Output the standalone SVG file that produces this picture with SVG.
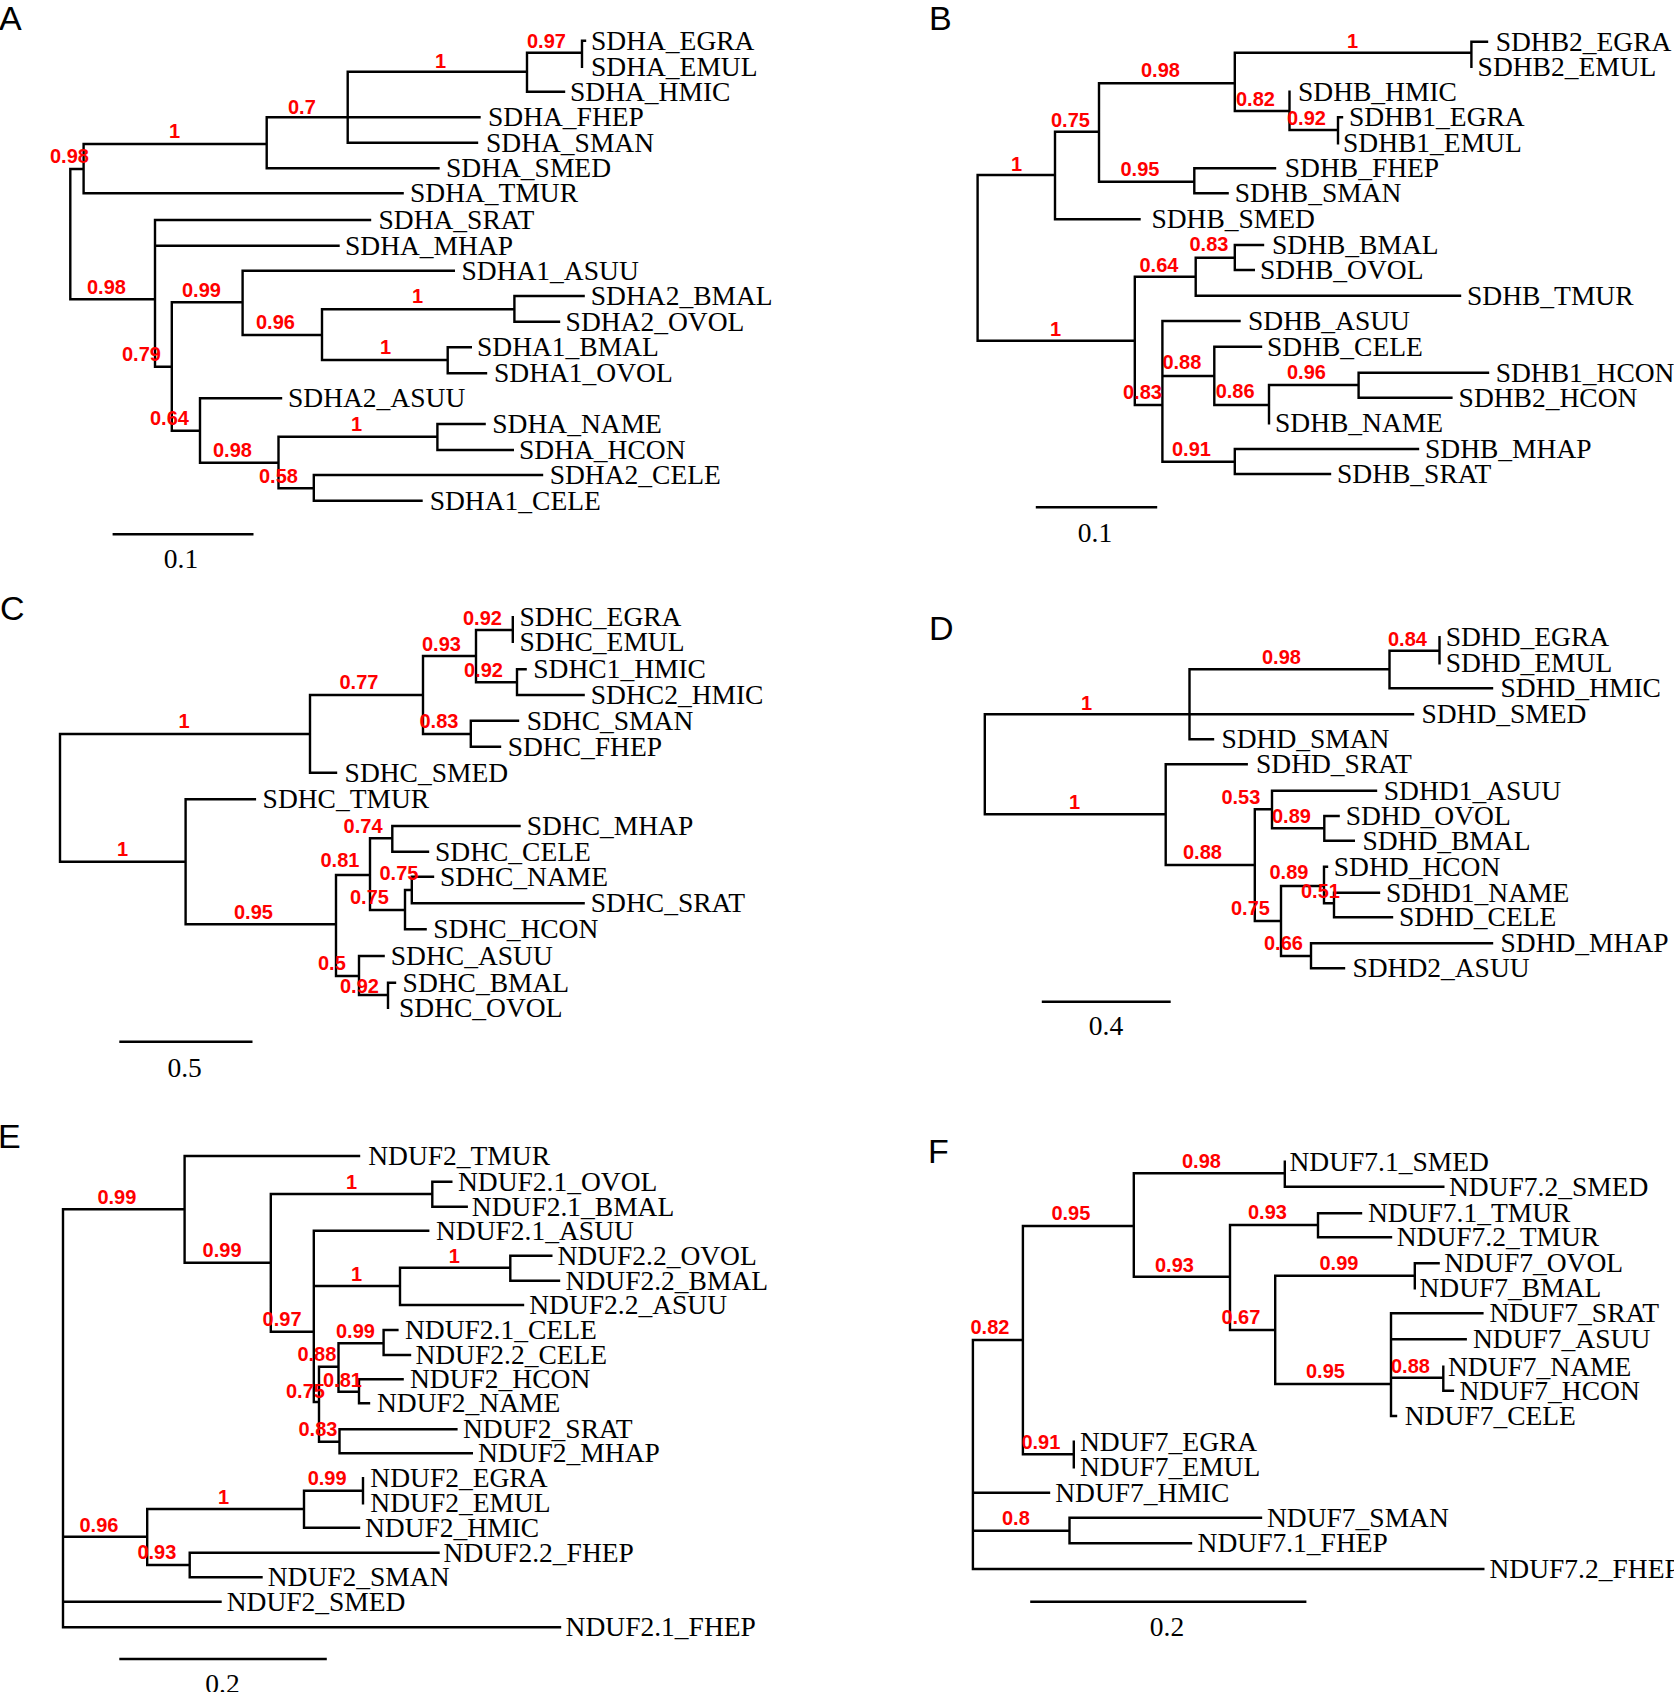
<svg xmlns="http://www.w3.org/2000/svg" width="1674" height="1692" viewBox="0 0 1674 1692">
<style>
.br{fill:none;stroke:#000;stroke-width:2.4;stroke-linecap:square}
.lf{font-family:"Liberation Serif","Times New Roman",serif;font-size:27.5px;fill:#000}
.bs{font-family:"Liberation Sans",Arial,sans-serif;font-weight:bold;font-size:20px;fill:#f00}
.pl{font-family:"Liberation Sans",Arial,sans-serif;font-size:34px;fill:#000}
.sc{font-family:"Liberation Serif","Times New Roman",serif;font-size:27.5px;text-anchor:middle}
</style>
<rect width="1674" height="1692" fill="#fff"/>

<!-- ================= PANEL A ================= -->
<g id="panelA">
<text class="pl" x="-1" y="30">A</text>
<g id="A-connectors">
<path class="br" d="M70.3 169V299.3M70.3 169H83.6M70.3 299.3H155
M83.6 144V193.3M83.6 144H266.7M83.6 193.3H402.6
M266.7 117.3V168.3M266.7 117.3H479.5M266.7 168.3H438.5
M347.7 71.7V142.7M347.7 71.7H527M347.7 142.7H477
M527 52.7V91.7M527 52.7H582M527 91.7H564
M582 40.7V66.7M582 40.7H585
M155 220V366.7M155 220H370M155 245.7H338.5M155 366.7H171.8
M171.8 302.3V430.7M171.8 302.3H242.6M171.8 430.7H200
M242.6 270.7V335M242.6 270.7H453.8M242.6 335H322
M322 309.3V360M322 309.3H514.4M322 360H447.7
M514.4 296V321.7M514.4 296H583.6M514.4 321.7H559
M447.7 347.3V373.3M447.7 347.3H470.8M447.7 373.3H486
M200 398.3V462.7M200 398.3H281M200 462.7H278.5
M278.5 436.7V488.3M278.5 436.7H437.4M278.5 488.3H313.8
M437.4 424V450M437.4 424H484.6M437.4 450H512.8
M313.8 475V500.7M313.8 475H542M313.8 500.7H421.5"/>
<path class="br" d="M113.8 534.3H252.3"/>
</g>
<g id="A-support">
<text class="bs" x="527" y="48.3">0.97</text>
<text class="bs" x="435" y="68">1</text>
<text class="bs" x="288" y="114">0.7</text>
<text class="bs" x="169" y="138">1</text>
<text class="bs" x="50" y="163">0.98</text>
<text class="bs" x="87" y="294">0.98</text>
<text class="bs" x="122" y="360.7">0.79</text>
<text class="bs" x="182" y="296.7">0.99</text>
<text class="bs" x="150" y="425">0.64</text>
<text class="bs" x="256" y="329.3">0.96</text>
<text class="bs" x="412" y="303.3">1</text>
<text class="bs" x="380" y="354">1</text>
<text class="bs" x="213" y="456.7">0.98</text>
<text class="bs" x="351" y="431">1</text>
<text class="bs" x="259" y="482.7">0.58</text>
</g>
<g id="A-SDHA_EGRA"><text class="lf" x="591" y="49.7">SDHA_EGRA</text></g>
<g id="A-SDHA_EMUL"><text class="lf" x="591" y="75.7">SDHA_EMUL</text></g>
<g id="A-SDHA_HMIC"><text class="lf" x="570" y="100.7">SDHA_HMIC</text></g>
<g id="A-SDHA_FHEP"><text class="lf" x="488" y="126.3">SDHA_FHEP</text></g>
<g id="A-SDHA_SMAN"><text class="lf" x="486" y="151.7">SDHA_SMAN</text></g>
<g id="A-SDHA_SMED"><text class="lf" x="446" y="177.3">SDHA_SMED</text></g>
<g id="A-SDHA_TMUR"><text class="lf" x="410" y="202.3">SDHA_TMUR</text></g>
<g id="A-SDHA_SRAT"><text class="lf" x="378.5" y="229">SDHA_SRAT</text></g>
<g id="A-SDHA_MHAP"><text class="lf" x="345" y="254.7">SDHA_MHAP</text></g>
<g id="A-SDHA1_ASUU"><text class="lf" x="461.5" y="279.7">SDHA1_ASUU</text></g>
<g id="A-SDHA2_BMAL"><text class="lf" x="590.8" y="305">SDHA2_BMAL</text></g>
<g id="A-SDHA2_OVOL"><text class="lf" x="565.6" y="330.7">SDHA2_OVOL</text></g>
<g id="A-SDHA1_BMAL"><text class="lf" x="477" y="356.3">SDHA1_BMAL</text></g>
<g id="A-SDHA1_OVOL"><text class="lf" x="494" y="382.3">SDHA1_OVOL</text></g>
<g id="A-SDHA2_ASUU"><text class="lf" x="288" y="407.3">SDHA2_ASUU</text></g>
<g id="A-SDHA_NAME"><text class="lf" x="492.3" y="433">SDHA_NAME</text></g>
<g id="A-SDHA_HCON"><text class="lf" x="519" y="459">SDHA_HCON</text></g>
<g id="A-SDHA2_CELE"><text class="lf" x="549.7" y="484">SDHA2_CELE</text></g>
<g id="A-SDHA1_CELE"><text class="lf" x="429.7" y="509.7">SDHA1_CELE</text></g>
<g id="A-scale"><text class="sc" x="181" y="567.7">0.1</text></g>
</g>

<!-- ================= PANEL B ================= -->
<g id="panelB">
<text class="pl" x="929" y="30">B</text>
<g id="B-connectors">
<path class="br" d="M977.6 175V340.7M977.6 175H1055M977.6 340.7H1134.8
M1055 131.7V219.3M1055 131.7H1099M1055 219.3H1139.5
M1099 83.3V181.7M1099 83.3H1234.8M1099 181.7H1194.3
M1234.8 52.7V111M1234.8 52.7H1471.4M1234.8 111H1289.5
M1471.4 41.7V66.7M1471.4 41.7H1487
M1289.5 91.7V130M1289.5 130H1338
M1338 117.3V143.3M1338 117.3H1342
M1194.3 168.3V193.3M1194.3 168.3H1275M1194.3 193.3H1227.6
M1134.8 276.7V405M1134.8 276.7H1195.7M1134.8 405H1162.4
M1195.7 257.7V295.7M1195.7 257.7H1234.8M1195.7 295.7H1460
M1234.8 245V270M1234.8 245H1263M1234.8 270H1253.8
M1162.4 321V461.7M1162.4 321H1239.5M1162.4 376H1214.3M1162.4 461.7H1234.8
M1214.3 346.7V405M1214.3 346.7H1261M1214.3 405H1269
M1269 385V423.3M1269 385H1358.6
M1358.6 372.7V397.7M1358.6 372.7H1488M1358.6 397.7H1451.4
M1234.8 449V474M1234.8 449H1418M1234.8 474H1330"/>
<path class="br" d="M1037 507.3H1156"/>
</g>
<g id="B-support">
<text class="bs" x="1347" y="48.3">1</text>
<text class="bs" x="1141" y="77.3">0.98</text>
<text class="bs" x="1236" y="106">0.82</text>
<text class="bs" x="1287" y="125">0.92</text>
<text class="bs" x="1051" y="126.7">0.75</text>
<text class="bs" x="1120.5" y="175.7">0.95</text>
<text class="bs" x="1011" y="170.7">1</text>
<text class="bs" x="1050" y="335.7">1</text>
<text class="bs" x="1139.5" y="271.7">0.64</text>
<text class="bs" x="1189.5" y="250.7">0.83</text>
<text class="bs" x="1123" y="399">0.83</text>
<text class="bs" x="1162.4" y="369.3">0.88</text>
<text class="bs" x="1172" y="456">0.91</text>
<text class="bs" x="1215.7" y="398.3">0.86</text>
<text class="bs" x="1287" y="379.3">0.96</text>
</g>
<g id="B-SDHB2_EGRA"><text class="lf" x="1495.7" y="50.7">SDHB2_EGRA</text></g>
<g id="B-SDHB2_EMUL"><text class="lf" x="1477.6" y="75.7">SDHB2_EMUL</text></g>
<g id="B-SDHB_HMIC"><text class="lf" x="1298" y="100.7">SDHB_HMIC</text></g>
<g id="B-SDHB1_EGRA"><text class="lf" x="1349" y="126.3">SDHB1_EGRA</text></g>
<g id="B-SDHB1_EMUL"><text class="lf" x="1343" y="152.3">SDHB1_EMUL</text></g>
<g id="B-SDHB_FHEP"><text class="lf" x="1284.8" y="177.3">SDHB_FHEP</text></g>
<g id="B-SDHB_SMAN"><text class="lf" x="1234.8" y="202.3">SDHB_SMAN</text></g>
<g id="B-SDHB_SMED"><text class="lf" x="1151.4" y="228.3">SDHB_SMED</text></g>
<g id="B-SDHB_BMAL"><text class="lf" x="1272" y="254">SDHB_BMAL</text></g>
<g id="B-SDHB_OVOL"><text class="lf" x="1260" y="279">SDHB_OVOL</text></g>
<g id="B-SDHB_TMUR"><text class="lf" x="1467" y="304.7">SDHB_TMUR</text></g>
<g id="B-SDHB_ASUU"><text class="lf" x="1248" y="330">SDHB_ASUU</text></g>
<g id="B-SDHB_CELE"><text class="lf" x="1267" y="355.7">SDHB_CELE</text></g>
<g id="B-SDHB1_HCON"><text class="lf" x="1495.7" y="381.7">SDHB1_HCON</text></g>
<g id="B-SDHB2_HCON"><text class="lf" x="1458.6" y="406.7">SDHB2_HCON</text></g>
<g id="B-SDHB_NAME"><text class="lf" x="1275" y="432.3">SDHB_NAME</text></g>
<g id="B-SDHB_MHAP"><text class="lf" x="1425" y="458">SDHB_MHAP</text></g>
<g id="B-SDHB_SRAT"><text class="lf" x="1337" y="483">SDHB_SRAT</text></g>
<g id="B-scale"><text class="sc" x="1095" y="541.7">0.1</text></g>
</g>

<!-- ================= PANEL C ================= -->
<g id="panelC">
<text class="pl" x="0" y="620">C</text>
<g id="C-connectors">
<path class="br" d="M60 734V861.7M60 734H310M60 861.7H185.6
M310 695V772.7M310 695H423M310 772.7H336
M423 656V734M423 656H476M423 734H470.8
M476 630V682.3M476 630H512.8M476 682.3H517
M512.8 617.3V641.7
M517 669.3V695M517 669.3H525.6M517 695H583.6
M470.8 720.7V746.7M470.8 720.7H518M470.8 746.7H500
M185.6 799.3V924.3M185.6 799.3H254.9M185.6 924.3H336
M336 875V976M336 875H370M336 976H359
M370 838.3V910M370 838.3H392.3M370 910H405
M392.3 826V851.7M392.3 826H519.5M392.3 851.7H428
M405 890V929.3M405 890H411.8M405 929.3H425.6
M411.8 876.7V903.3M411.8 876.7H433M411.8 903.3H583.6
M359 956V995M359 956H383.6M359 995H388
M388 982.7V1007.7M388 982.7H395"/>
<path class="br" d="M120.5 1041.7H251.3"/>
</g>
<g id="C-support">
<text class="bs" x="463" y="625">0.92</text>
<text class="bs" x="422" y="651">0.93</text>
<text class="bs" x="464" y="676.7">0.92</text>
<text class="bs" x="339.5" y="689.3">0.77</text>
<text class="bs" x="419.5" y="728.3">0.83</text>
<text class="bs" x="178.5" y="728.3">1</text>
<text class="bs" x="117" y="856">1</text>
<text class="bs" x="234" y="919.3">0.95</text>
<text class="bs" x="343.6" y="832.7">0.74</text>
<text class="bs" x="320.5" y="867.3">0.81</text>
<text class="bs" x="379.5" y="880">0.75</text>
<text class="bs" x="350" y="904.3">0.75</text>
<text class="bs" x="318" y="970">0.5</text>
<text class="bs" x="340" y="993.3">0.92</text>
</g>
<g id="C-SDHC_EGRA"><text class="lf" x="519.5" y="626.3">SDHC_EGRA</text></g>
<g id="C-SDHC_EMUL"><text class="lf" x="519.5" y="650.7">SDHC_EMUL</text></g>
<g id="C-SDHC1_HMIC"><text class="lf" x="533.3" y="678.3">SDHC1_HMIC</text></g>
<g id="C-SDHC2_HMIC"><text class="lf" x="590.8" y="704">SDHC2_HMIC</text></g>
<g id="C-SDHC_SMAN"><text class="lf" x="526.7" y="729.7">SDHC_SMAN</text></g>
<g id="C-SDHC_FHEP"><text class="lf" x="507.7" y="755.7">SDHC_FHEP</text></g>
<g id="C-SDHC_SMED"><text class="lf" x="344.6" y="781.7">SDHC_SMED</text></g>
<g id="C-SDHC_TMUR"><text class="lf" x="262.6" y="808.3">SDHC_TMUR</text></g>
<g id="C-SDHC_MHAP"><text class="lf" x="526.7" y="835">SDHC_MHAP</text></g>
<g id="C-SDHC_CELE"><text class="lf" x="435" y="860.7">SDHC_CELE</text></g>
<g id="C-SDHC_NAME"><text class="lf" x="440" y="885.7">SDHC_NAME</text></g>
<g id="C-SDHC_SRAT"><text class="lf" x="590.8" y="912.3">SDHC_SRAT</text></g>
<g id="C-SDHC_HCON"><text class="lf" x="433.3" y="938.3">SDHC_HCON</text></g>
<g id="C-SDHC_ASUU"><text class="lf" x="390.8" y="965">SDHC_ASUU</text></g>
<g id="C-SDHC_BMAL"><text class="lf" x="402.6" y="991.7">SDHC_BMAL</text></g>
<g id="C-SDHC_OVOL"><text class="lf" x="399" y="1016.7">SDHC_OVOL</text></g>
<g id="C-scale"><text class="sc" x="184.6" y="1076.7">0.5</text></g>
</g>

<!-- ================= PANEL D ================= -->
<g id="panelD">
<text class="pl" x="929" y="640">D</text>
<g id="D-connectors">
<path class="br" d="M984.8 714.3V814.3M984.8 714.3H1413M984.8 814.3H1165.7
M1189.5 669.3V739.3M1189.5 669.3H1389.5M1189.5 739.3H1213
M1389.5 650.7V688.3M1389.5 650.7H1439.5M1389.5 688.3H1492
M1439.5 637.3V663.3
M1165.7 764.3V865M1165.7 764.3H1246.7M1165.7 865H1254.8
M1254.8 809.3V921M1254.8 809.3H1272M1254.8 921H1281
M1272 790.7V828.3M1272 790.7H1376M1272 828.3H1324.3
M1324.3 816V840.7M1324.3 816H1338.6M1324.3 840.7H1353.8
M1281 886V956M1281 886H1324M1281 956H1311
M1324 866.7V903.3M1324 866.7H1327M1324 903.3H1334
M1334 892.7V917.3M1334 892.7H1379M1334 917.3H1392
M1311 943.3V968.3M1311 943.3H1492M1311 968.3H1344"/>
<path class="br" d="M1043 1001.7H1169.5"/>
</g>
<g id="D-support">
<text class="bs" x="1388" y="645.7">0.84</text>
<text class="bs" x="1262" y="664">0.98</text>
<text class="bs" x="1081" y="710">1</text>
<text class="bs" x="1069" y="809.3">1</text>
<text class="bs" x="1183" y="859.3">0.88</text>
<text class="bs" x="1221.4" y="804">0.53</text>
<text class="bs" x="1231" y="915">0.75</text>
<text class="bs" x="1272" y="822.7">0.89</text>
<text class="bs" x="1269.5" y="879.3">0.89</text>
<text class="bs" x="1264" y="950">0.66</text>
<text class="bs" x="1301" y="898.3">0.51</text>
</g>
<g id="D-SDHD_EGRA"><text class="lf" x="1445.7" y="646.3">SDHD_EGRA</text></g>
<g id="D-SDHD_EMUL"><text class="lf" x="1445.7" y="672.3">SDHD_EMUL</text></g>
<g id="D-SDHD_HMIC"><text class="lf" x="1500.5" y="697.3">SDHD_HMIC</text></g>
<g id="D-SDHD_SMED"><text class="lf" x="1421.4" y="723.3">SDHD_SMED</text></g>
<g id="D-SDHD_SMAN"><text class="lf" x="1221.4" y="748.3">SDHD_SMAN</text></g>
<g id="D-SDHD_SRAT"><text class="lf" x="1256" y="773.3">SDHD_SRAT</text></g>
<g id="D-SDHD1_ASUU"><text class="lf" x="1383.8" y="799.7">SDHD1_ASUU</text></g>
<g id="D-SDHD_OVOL"><text class="lf" x="1345.7" y="825">SDHD_OVOL</text></g>
<g id="D-SDHD_BMAL"><text class="lf" x="1362.4" y="849.7">SDHD_BMAL</text></g>
<g id="D-SDHD_HCON"><text class="lf" x="1333.8" y="875.7">SDHD_HCON</text></g>
<g id="D-SDHD1_NAME"><text class="lf" x="1386" y="901.7">SDHD1_NAME</text></g>
<g id="D-SDHD_CELE"><text class="lf" x="1399" y="926.3">SDHD_CELE</text></g>
<g id="D-SDHD_MHAP"><text class="lf" x="1500.5" y="952.3">SDHD_MHAP</text></g>
<g id="D-SDHD2_ASUU"><text class="lf" x="1352.4" y="977.3">SDHD2_ASUU</text></g>
<g id="D-scale"><text class="sc" x="1106" y="1035">0.4</text></g>
</g>

<!-- ================= PANEL E ================= -->
<g id="panelE">
<text class="pl" x="-2" y="1148.3">E</text>
<g id="E-connectors">
<path class="br" d="M63 1209.3V1627.3M63 1209.3H184.6M63 1536.7H147.2M63 1601.7H220.5M63 1627.3H560
M184.6 1156V1262.7M184.6 1156H359M184.6 1262.7H270.8
M270.8 1194V1331.7M270.8 1194H432.3M270.8 1331.7H313.8
M432.3 1181.7V1206.7M432.3 1181.7H451.3M432.3 1206.7H466.7
M313.8 1230.7V1402M313.8 1230.7H428.2M313.8 1286H400M313.8 1402H319
M400 1267.7V1305M400 1267.7H510.3M400 1305H523
M510.3 1255.7V1280.7M510.3 1255.7H551.3M510.3 1280.7H559
M319 1366.7V1441.7M319 1366.7H338.5M319 1441.7H339.5
M338.5 1343.3V1391.7M338.5 1343.3H383.6M338.5 1391.7H359
M383.6 1330V1355M383.6 1330H397.4M383.6 1355H410
M359 1379.3V1403.3M359 1379.3H402.6M359 1403.3H369
M339.5 1429.3V1453.3M339.5 1429.3H456.4M339.5 1453.3H471.8
M147.2 1509V1565M147.2 1509H304M147.2 1565H189.7
M304 1490.7V1527.7M304 1490.7H363M304 1527.7H359
M363 1478.3V1503.3
M189.7 1552.7V1577.3M189.7 1552.7H438.5M189.7 1577.3H261.5"/>
<path class="br" d="M120.5 1659H325.6"/>
</g>
<g id="E-support">
<text class="bs" x="97.4" y="1204">0.99</text>
<text class="bs" x="202.6" y="1257.3">0.99</text>
<text class="bs" x="346" y="1189">1</text>
<text class="bs" x="262.6" y="1326">0.97</text>
<text class="bs" x="351" y="1281">1</text>
<text class="bs" x="448.7" y="1262.7">1</text>
<text class="bs" x="297.4" y="1360.7">0.88</text>
<text class="bs" x="286" y="1398.3">0.75</text>
<text class="bs" x="323" y="1386.7">0.81</text>
<text class="bs" x="336" y="1337.7">0.99</text>
<text class="bs" x="298.5" y="1435.7">0.83</text>
<text class="bs" x="79.5" y="1531.7">0.96</text>
<text class="bs" x="218" y="1504">1</text>
<text class="bs" x="137.4" y="1559.3">0.93</text>
<text class="bs" x="307.7" y="1485">0.99</text>
</g>
<g id="E-NDUF2_TMUR"><text class="lf" x="368.2" y="1165">NDUF2_TMUR</text></g>
<g id="E-NDUF2.1_OVOL"><text class="lf" x="458" y="1190.7">NDUF2.1_OVOL</text></g>
<g id="E-NDUF2.1_BMAL"><text class="lf" x="471.8" y="1215.7">NDUF2.1_BMAL</text></g>
<g id="E-NDUF2.1_ASUU"><text class="lf" x="436" y="1239.7">NDUF2.1_ASUU</text></g>
<g id="E-NDUF2.2_OVOL"><text class="lf" x="557.4" y="1264.7">NDUF2.2_OVOL</text></g>
<g id="E-NDUF2.2_BMAL"><text class="lf" x="565.6" y="1289.7">NDUF2.2_BMAL</text></g>
<g id="E-NDUF2.2_ASUU"><text class="lf" x="529.2" y="1314">NDUF2.2_ASUU</text></g>
<g id="E-NDUF2.1_CELE"><text class="lf" x="405" y="1339">NDUF2.1_CELE</text></g>
<g id="E-NDUF2.2_CELE"><text class="lf" x="415.4" y="1364">NDUF2.2_CELE</text></g>
<g id="E-NDUF2_HCON"><text class="lf" x="410" y="1388.3">NDUF2_HCON</text></g>
<g id="E-NDUF2_NAME"><text class="lf" x="377" y="1412.3">NDUF2_NAME</text></g>
<g id="E-NDUF2_SRAT"><text class="lf" x="463" y="1438.3">NDUF2_SRAT</text></g>
<g id="E-NDUF2_MHAP"><text class="lf" x="478" y="1462.3">NDUF2_MHAP</text></g>
<g id="E-NDUF2_EGRA"><text class="lf" x="370.3" y="1487.3">NDUF2_EGRA</text></g>
<g id="E-NDUF2_EMUL"><text class="lf" x="370.3" y="1512.3">NDUF2_EMUL</text></g>
<g id="E-NDUF2_HMIC"><text class="lf" x="365" y="1536.7">NDUF2_HMIC</text></g>
<g id="E-NDUF2.2_FHEP"><text class="lf" x="443.6" y="1561.7">NDUF2.2_FHEP</text></g>
<g id="E-NDUF2_SMAN"><text class="lf" x="267.7" y="1586.3">NDUF2_SMAN</text></g>
<g id="E-NDUF2_SMED"><text class="lf" x="226.7" y="1610.7">NDUF2_SMED</text></g>
<g id="E-NDUF2.1_FHEP"><text class="lf" x="565.6" y="1636.3">NDUF2.1_FHEP</text></g>
<g id="E-scale"><text class="sc" x="222.5" y="1693">0.2</text></g>
</g>

<!-- ================= PANEL F ================= -->
<g id="panelF">
<text class="pl" x="928" y="1163">F</text>
<g id="F-connectors">
<path class="br" d="M972.9 1340V1569M972.9 1340H1022.9M972.9 1492.7H1049M972.9 1530.7H1069.5M972.9 1569H1483.3
M1022.9 1226V1454.3M1022.9 1226H1133.8M1022.9 1454.3H1073.8
M1133.8 1173.3V1276.7M1133.8 1173.3H1284.8M1133.8 1276.7H1230
M1284.8 1161.7V1186.7M1284.8 1186.7H1443.3
M1230 1225V1330M1230 1225H1318M1230 1330H1275.2
M1318 1213.3V1237.3M1318 1213.3H1361M1318 1237.3H1391
M1275.2 1275.7V1384M1275.2 1275.7H1414.8M1275.2 1384H1391
M1414.8 1263.3V1288.3M1414.8 1263.3H1438.6
M1391 1313.3V1416M1391 1313.3H1482.4M1391 1339.3H1465.7M1391 1377.7H1443.3M1391 1416H1396
M1443.3 1366.7V1390.7M1443.3 1390.7H1452.9
M1073.8 1441.7V1467.3
M1069.5 1517.7V1543.3M1069.5 1517.7H1261M1069.5 1543.3H1191"/>
<path class="br" d="M1031.4 1601.7H1305.2"/>
</g>
<g id="F-support">
<text class="bs" x="1182" y="1168.3">0.98</text>
<text class="bs" x="1051.4" y="1220">0.95</text>
<text class="bs" x="1155" y="1271.7">0.93</text>
<text class="bs" x="1248" y="1219.3">0.93</text>
<text class="bs" x="1221.4" y="1324.3">0.67</text>
<text class="bs" x="1319.5" y="1270">0.99</text>
<text class="bs" x="1306" y="1378.3">0.95</text>
<text class="bs" x="1391" y="1372.7">0.88</text>
<text class="bs" x="970.5" y="1334.3">0.82</text>
<text class="bs" x="1021.4" y="1449.3">0.91</text>
<text class="bs" x="1002" y="1525">0.8</text>
</g>
<g id="F-NDUF7.1_SMED"><text class="lf" x="1289.5" y="1170.7">NDUF7.1_SMED</text></g>
<g id="F-NDUF7.2_SMED"><text class="lf" x="1449" y="1195.7">NDUF7.2_SMED</text></g>
<g id="F-NDUF7.1_TMUR"><text class="lf" x="1368" y="1222.3">NDUF7.1_TMUR</text></g>
<g id="F-NDUF7.2_TMUR"><text class="lf" x="1396.7" y="1246.3">NDUF7.2_TMUR</text></g>
<g id="F-NDUF7_OVOL"><text class="lf" x="1444.3" y="1272.3">NDUF7_OVOL</text></g>
<g id="F-NDUF7_BMAL"><text class="lf" x="1419.5" y="1297.3">NDUF7_BMAL</text></g>
<g id="F-NDUF7_SRAT"><text class="lf" x="1489.5" y="1322.3">NDUF7_SRAT</text></g>
<g id="F-NDUF7_ASUU"><text class="lf" x="1473" y="1348.3">NDUF7_ASUU</text></g>
<g id="F-NDUF7_NAME"><text class="lf" x="1448" y="1375.7">NDUF7_NAME</text></g>
<g id="F-NDUF7_HCON"><text class="lf" x="1459.5" y="1399.7">NDUF7_HCON</text></g>
<g id="F-NDUF7_CELE"><text class="lf" x="1404.8" y="1425">NDUF7_CELE</text></g>
<g id="F-NDUF7_EGRA"><text class="lf" x="1080" y="1450.7">NDUF7_EGRA</text></g>
<g id="F-NDUF7_EMUL"><text class="lf" x="1080" y="1476.3">NDUF7_EMUL</text></g>
<g id="F-NDUF7_HMIC"><text class="lf" x="1055.2" y="1501.7">NDUF7_HMIC</text></g>
<g id="F-NDUF7_SMAN"><text class="lf" x="1267" y="1526.7">NDUF7_SMAN</text></g>
<g id="F-NDUF7.1_FHEP"><text class="lf" x="1197.6" y="1552.3">NDUF7.1_FHEP</text></g>
<g id="F-NDUF7.2_FHEP"><text class="lf" x="1489.5" y="1578">NDUF7.2_FHEP</text></g>
<g id="F-scale"><text class="sc" x="1167" y="1636">0.2</text></g>
</g>
</svg>
